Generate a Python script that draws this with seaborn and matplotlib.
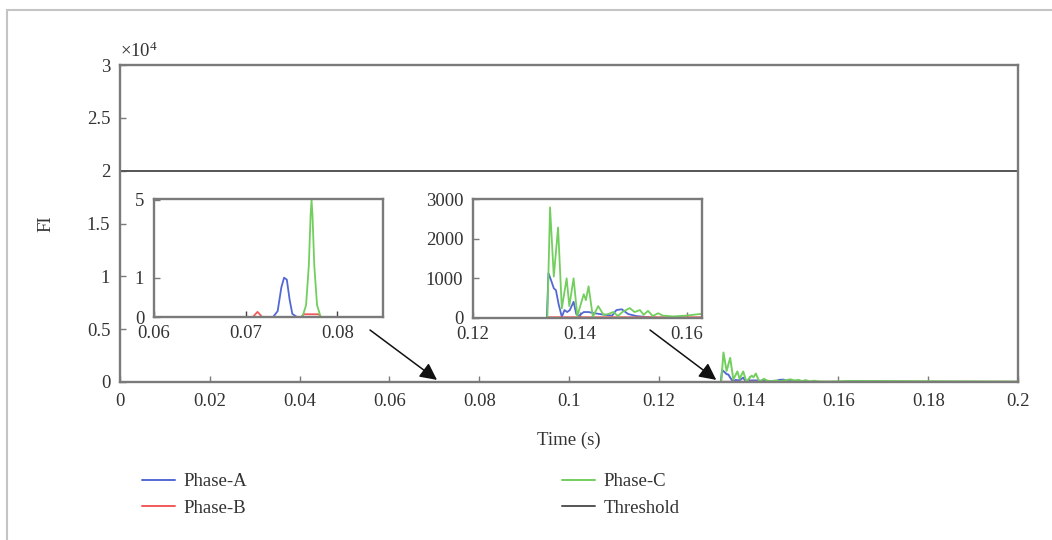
import numpy as np
import pandas as pd
import matplotlib
matplotlib.use("Agg")
import matplotlib.pyplot as plt
import seaborn as sns
from matplotlib.lines import Line2D
from matplotlib.ticker import FixedLocator, FixedFormatter

# ---------------- data ----------------
phase_a_t = [0.0, 0.0730, 0.0735, 0.0739, 0.0742, 0.0745, 0.0748, 0.0751, 0.0756,
             0.1338, 0.1341, 0.1346, 0.1351, 0.1355, 0.1360, 0.1366, 0.1371, 0.1376,
             0.1381, 0.1388, 0.1393, 0.1398, 0.1402, 0.1407, 0.1416, 0.1427, 0.1447,
             0.1460, 0.1468, 0.1478, 0.1490, 0.1505, 0.1520, 0.1547, 0.2]
phase_a_v = [0, 0, 0.15, 0.75, 1.0, 0.95, 0.45, 0.08, 0,
             0, 1130, 950, 750, 700, 350, 30, 200, 150,
             200, 410, 100, 50, 100, 150, 150, 120, 80,
             60, 200, 220, 100, 50, 30, 0, 0]

phase_b_t = [0.0, 0.0708, 0.0711, 0.0713, 0.0715, 0.0718, 0.0761, 0.0763, 0.0780,
             0.0782, 0.1338, 0.1341, 0.2]
phase_b_v = [0, 0, 0.08, 0.13, 0.08, 0, 0, 0.07, 0.07,
             0, 0, 20, 20]

phase_c_t = [0.0, 0.0762, 0.0766, 0.0769, 0.0771, 0.0772, 0.0773, 0.0775, 0.0778, 0.0782,
             0.1339, 0.1344, 0.1351, 0.1359, 0.1366, 0.1375, 0.1380, 0.1388, 0.1395,
             0.1407, 0.1411, 0.1416, 0.1424, 0.1434, 0.1444, 0.1453, 0.1462, 0.1471,
             0.1479, 0.1493, 0.1502, 0.1512, 0.1519, 0.1527, 0.1536, 0.1546, 0.1555,
             0.1574, 0.1598, 0.1624, 0.2]
phase_c_v = [0, 0, 0.3, 1.3, 2.6, 2.98, 2.6, 1.3, 0.3, 0,
             0, 2790, 1045, 2280, 240, 1000, 300, 1000, 50,
             600, 450, 800, 30, 300, 80, 100, 150, 50,
             150, 250, 150, 200, 80, 180, 50, 120, 60,
             40, 60, 100, 40]

threshold_t = [0.0, 0.2]
threshold_v = [20000, 20000]

series_names = ["Phase-A", "Phase-B", "Phase-C", "Threshold"]
main_xticks = [0, 0.02, 0.04, 0.06, 0.08, 0.1, 0.12, 0.14, 0.16, 0.18, 0.2]
main_xlabels = ["0", "0.02", "0.04", "0.06", "0.08", "0.1", "0.12", "0.14", "0.16", "0.18", "0.2"]
main_yticks = [0, 5000, 10000, 15000, 20000, 25000, 30000]
main_ylabels = ["0", "0.5", "1", "1.5", "2", "2.5", "3"]
inset1_xticks = [0.06, 0.07, 0.08]
inset1_xlabels = ["0.06", "0.07", "0.08"]
inset1_yticks = [0, 1, 2.98]
inset1_ylabels = ["0", "1", "5"]
inset2_xticks = [0.12, 0.14, 0.16]
inset2_xlabels = ["0.12", "0.14", "0.16"]
inset2_yticks = [0, 1000, 2000, 3000]
inset2_ylabels = ["0", "1000", "2000", "3000"]

palette = {"Phase-A": "#5468d4", "Phase-B": "#f05a5a",
           "Phase-C": "#72cf5e", "Threshold": "#555555"}

frames = []
for name, t, v in [("Phase-A", phase_a_t, phase_a_v), ("Phase-B", phase_b_t, phase_b_v),
                   ("Phase-C", phase_c_t, phase_c_v), ("Threshold", threshold_t, threshold_v)]:
    frames.append(pd.DataFrame({"t": t, "v": v, "series": name}))
df = pd.concat(frames, ignore_index=True)
df_phases = df[df.series != "Threshold"]

# ---------------- style ----------------
sns.set_theme(style="ticks")
plt.rcParams["font.family"] = ["Liberation Serif", "DejaVu Serif"]
plt.rcParams["mathtext.fontset"] = "custom"
plt.rcParams["mathtext.rm"] = "Liberation Serif"
plt.rcParams["mathtext.it"] = "Liberation Serif:italic"
FS = 13.5
spine_c = "#7a7a7a"
text_c = "#333333"

fig = plt.figure(figsize=(10.52, 5.40), dpi=100)
fig.patch.set_facecolor("white")

def style_axes(ax, xpad, ypad):
    for s in ax.spines.values():
        s.set_color(spine_c)
        s.set_linewidth(1.7)
        s.set_visible(True)
    ax.tick_params(direction="in", length=4, width=1, color=spine_c,
                   labelsize=FS, labelcolor=text_c)
    ax.tick_params(axis="x", pad=xpad)
    ax.tick_params(axis="y", pad=ypad)

# ---------------- main axes ----------------
ax = fig.add_axes([120/1052, 1-382/540, (1018-120)/1052, (382-65)/540])
sns.lineplot(data=df, x="t", y="v", hue="series", hue_order=series_names,
             palette=palette, estimator=None, sort=False, linewidth=1.4,
             ax=ax, legend=False)
ax.set_xlim(0, 0.2)
ax.set_ylim(0, 30000)
ax.set_xticks(main_xticks)
ax.set_xticklabels(main_xlabels)
ax.yaxis.set_major_locator(FixedLocator(main_yticks))
ax.yaxis.set_major_formatter(FixedFormatter(main_ylabels))
ax.set_xlabel("Time (s)", fontsize=FS, color=text_c)
ax.set_ylabel("FI", fontsize=FS, color=text_c)
ax.xaxis.set_label_coords(0.5, -(432-382)/317)
ax.yaxis.set_label_coords((54-120)/898, 0.5)
style_axes(ax, 8, 7)
ax.text(0.0, 1.012, r"$\times 10^{4}$", transform=ax.transAxes, fontsize=FS,
        color=text_c, ha="left", va="bottom")

# ---------------- inset 1 ----------------
ax1 = fig.add_axes([154/1052, 1-317/540, (383-154)/1052, (317-199)/540])
sns.lineplot(data=df_phases, x="t", y="v", hue="series", hue_order=series_names[:3],
             palette=palette, estimator=None, sort=False, linewidth=1.3,
             ax=ax1, legend=False)
ax1.set_xlim(0.06, 0.085)
ax1.set_ylim(0, 3)
ax1.yaxis.set_major_locator(FixedLocator(inset1_yticks))
ax1.yaxis.set_major_formatter(FixedFormatter(inset1_ylabels))
ax1.set_xticks(inset1_xticks)
ax1.set_xticklabels(inset1_xlabels)
ax1.set_xlabel("")
ax1.set_ylabel("")
style_axes(ax1, 6, 7)
ax1.tick_params(axis="x", color="#444444")

# ---------------- inset 2 ----------------
ax2 = fig.add_axes([473/1052, 1-318/540, (702-473)/1052, (318-199)/540])
sns.lineplot(data=df_phases, x="t", y="v", hue="series", hue_order=series_names[:3],
             palette=palette, estimator=None, sort=False, linewidth=1.3,
             ax=ax2, legend=False)
ax2.set_xlim(0.12, 0.1628)
ax2.set_ylim(0, 3000)
ax2.set_xticks(inset2_xticks)
ax2.set_xticklabels(inset2_xlabels)
ax2.set_yticks(inset2_yticks)
ax2.set_yticklabels(inset2_ylabels)
ax2.set_xlabel("")
ax2.set_ylabel("")
style_axes(ax2, 6, 7)

# ---------------- arrows ----------------
arrow_kw = dict(arrowstyle="-|>,head_length=0.6,head_width=0.3", color="#111111",
                lw=1.1, mutation_scale=17, shrinkA=0, shrinkB=0)
ax.annotate("", xy=(0.0706, 200), xycoords="data",
            xytext=(370/1052, 1-330/540), textcoords="figure fraction",
            arrowprops=arrow_kw)
ax.annotate("", xy=(0.1328, 200), xycoords="data",
            xytext=(650/1052, 1-330/540), textcoords="figure fraction",
            arrowprops=arrow_kw)

# ---------------- legend ----------------
handles = [Line2D([0], [0], color=palette[n], lw=1.4) for n in series_names]
fig.legend(handles, series_names, loc="upper left",
           bbox_to_anchor=(142/1052, 1-473/540), ncol=2, frameon=False,
           borderpad=0, borderaxespad=0, handlelength=1.75, handletextpad=0.45,
           columnspacing=16.8, labelspacing=0.5, fontsize=FS, labelcolor=text_c)

# ---------------- outer frame ----------------
fig.add_artist(Line2D([7/1052, 7/1052], [0, 1-10/540], color="#c4c4c4", lw=1.5,
                      transform=fig.transFigure))
fig.add_artist(Line2D([7/1052, 1], [1-10/540, 1-10/540], color="#c4c4c4", lw=1.5,
                      transform=fig.transFigure))

fig.savefig("out.png", dpi=100)
